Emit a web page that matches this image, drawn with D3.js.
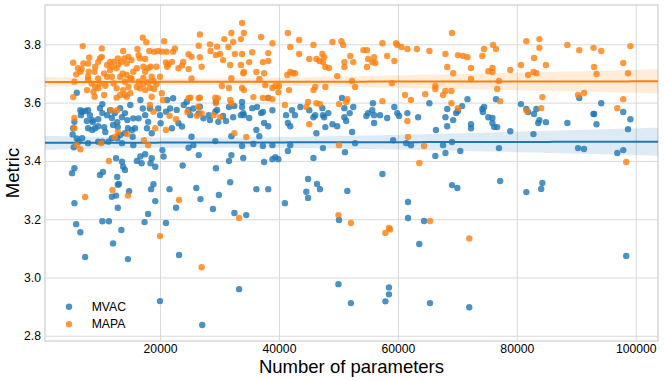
<!DOCTYPE html>
<meta charset="utf-8">
<style>
body { margin: 0; background: #fff; }
text { font-family: "Liberation Sans", Arial, sans-serif; fill: #000; }
</style>
<body>
<svg id="chart" width="664" height="381"></svg>
<script src="https://d3js.org/d3.v7.min.js"></script>
<script>

// [number of parameters, metric]
var mvacPoints = [
  [5600,3.534],[5400,3.512],[5300,3.491],[6000,3.477],[6300,3.466],[6600,3.574],[6900,3.568],[7400,3.571],
  [6700,3.557],[7900,3.574],[8200,3.557],[7700,3.537],[8600,3.540],[8700,3.533],[7900,3.512],[8600,3.506],
  [9100,3.512],[9600,3.543],[9900,3.581],[10300,3.564],[10300,3.595],[9600,3.519],[10600,3.516],[10800,3.499],
  [10300,3.466],[7900,3.461],[6900,3.478],[9600,3.466],[11300,3.466],[11100,3.557],[11600,3.574],[11900,3.547],
  [12100,3.523],[12400,3.564],[12800,3.533],[12900,3.516],[13300,3.581],[13600,3.550],[14100,3.564],[14500,3.540],
  [14600,3.512],[15000,3.592],[13300,3.489],[14100,3.495],[15300,3.506],[13600,3.461],[15500,3.454],[11900,3.478],
  [12800,3.478],[6000,3.634],[5500,3.447],
  [5600,3.375],[5200,3.358],[9900,3.352],[10400,3.362],[12600,3.409],[13600,3.397],[13800,3.380],[14100,3.369],
  [13100,3.321],[12800,3.345],[5600,3.255],[5900,3.183],[6600,3.155],[7400,3.070],[10300,3.193],[11400,3.193],
  [12100,3.117],[11900,3.277],[12600,3.281],[12900,3.318],[12900,3.239],[13500,3.163],[14600,3.063],[14800,3.296],
  [15500,3.546],[15800,3.512],[15400,3.483],[16700,3.609],[17100,3.580],[17500,3.557],[16400,3.546],[17800,3.512],
  [18000,3.534],[18600,3.495],[18300,3.580],[19700,3.580],[20000,3.557],[20100,3.529],[21000,3.569],[21200,3.609],
  [21700,3.580],[22000,3.512],[22200,3.615],[22800,3.575],[23100,3.529],[23700,3.518],[24000,3.592],[24500,3.603],
  [24800,3.575],[25100,3.557],[25600,3.580],[26500,3.563],[26700,3.586],[27300,3.546],[28200,3.557],[28400,3.540],
  [29300,3.569],[29400,3.603],[29800,3.534],[29600,3.575],
  [25300,3.483],[25600,3.454],[24800,3.445],[29300,3.468],[20400,3.437],[17500,3.423],[16700,3.415],[16100,3.400],
  [16900,3.392],[18600,3.409],[19200,3.380],[18400,3.392],[20600,3.415],[26500,3.420],[23800,3.384],[29400,3.375],
  [18900,3.320],[17400,3.190],[18000,3.218],[18500,3.303],[19200,3.262],[20000,2.919],[21000,3.187],[21600,3.303],
  [22700,3.239],[23200,3.077],[26100,3.307],[26800,3.269],[27100,2.837],[28900,3.235],[29900,3.283],[31800,3.327],
  [32500,3.221],[33300,2.960],
  [30600,3.554],[31100,3.537],[32300,3.550],[31600,3.585],[32500,3.588],[33800,3.602],[33800,3.585],[34000,3.564],
  [33600,3.557],[34100,3.557],[35000,3.547],[35500,3.581],[36300,3.585],[37000,3.564],[37300,3.568],[37500,3.530],
  [38200,3.519],[38200,3.616],[38900,3.574],[36200,3.506],[36700,3.485],[32000,3.485],[33800,3.451],[35700,3.458],
  [37300,3.451],[38900,3.454],[32000,3.420],[31600,3.400],[34000,3.410],[37500,3.396],[38900,3.406],[39400,3.413],
  [39900,3.406],
  [41200,3.557],[41500,3.530],[41900,3.519],[42200,3.574],[42700,3.557],[43600,3.585],[45100,3.574],[45800,3.550],
  [46100,3.557],[47300,3.581],[47400,3.557],[47600,3.550],[48300,3.564],[47800,3.516],[49000,3.526],[49800,3.519],
  [50600,3.616],[51000,3.581],[51000,3.550],[51300,3.537],[52500,3.585],[52300,3.499],[51900,3.564],[54700,3.554],
  [55000,3.564],[55700,3.574],[55800,3.598],[56000,3.557],[56000,3.530],[57000,3.557],[58200,3.547],[59400,3.585],
  [59900,3.564],[60200,3.554],[61600,3.564],[63400,3.550],[65300,3.598],[66400,3.506],[68300,3.578],[68000,3.550],
  [68300,3.519],[69300,3.540],[69800,3.564],
  [41900,3.454],[41500,3.434],[46300,3.495],[47400,3.444],[51100,3.430],[52800,3.461],[59200,3.471],[61400,3.461],
  [62200,3.454],[66300,3.417],[67600,3.454],[68000,3.427],[69100,3.465],[57400,3.355],[45800,3.410],[44900,3.338],
  [44600,3.294],[46400,3.321],[46900,3.303],[51500,3.297],[36200,3.303],[38200,3.303],[69100,3.317],[70000,3.307],
  [44900,3.273],[41000,3.255],[34500,3.214],[50100,3.197],[61700,3.259],[61700,3.204],[64400,3.194],[63600,3.115],
  [50000,2.977],[52100,2.912],[57900,2.918],[58500,2.942],[58500,2.966],[65400,2.912],
  [77200,3.331],[81600,3.293],[84100,3.304],[84300,3.324],[72000,2.898],[98400,3.074],
  [71700,3.612],[70800,3.588],[70100,3.571],[72300,3.526],[72300,3.512],[74200,3.578],[74500,3.585],[74300,3.568],
  [75200,3.550],[75900,3.547],[75900,3.530],[76200,3.516],[76700,3.516],[76500,3.612],[78900,3.502],[77000,3.444],
  [80700,3.595],[81600,3.578],[81900,3.568],[83300,3.578],[82900,3.561],[83800,3.540],[83600,3.530],[84900,3.533],
  [82800,3.492],[90500,3.616],[88500,3.530],[92900,3.561],[93000,3.561],[93400,3.526],[94200,3.598],[97900,3.568],
  [99100,3.543],[98700,3.509],[90300,3.444],[91300,3.441],[96900,3.427],[97900,3.437],[70500,3.434]
];

var mapaPoints = [
  [7000,3.794],[10200,3.786],[13800,3.777],[5400,3.737],[6200,3.718],[6600,3.706],[5900,3.697],[5600,3.672],
  [6800,3.715],[7100,3.734],[7900,3.734],[8100,3.755],[8000,3.706],[7900,3.689],[8500,3.666],[9100,3.723],
  [9000,3.706],[9900,3.752],[9600,3.740],[10200,3.757],[11100,3.729],[11600,3.740],[11900,3.723],[12200,3.740],
  [12900,3.752],[13000,3.731],[13500,3.740],[14000,3.752],[14400,3.734],[14700,3.757],[12700,3.718],[11600,3.712],
  [11100,3.689],[10600,3.700],[9600,3.683],[9900,3.666],[7900,3.678],[13700,3.700],[13300,3.689],[14400,3.695],
  [15000,3.683],[14100,3.672],[11900,3.689],[12200,3.666],[10800,3.658],[9100,3.654],[8800,3.637],[9600,3.649],
  [14700,3.654],[13800,3.643],[12700,3.649],[13300,3.626],[14100,3.626],[15000,3.632],[9000,3.620],[10600,3.626],
  [7700,3.643],[14400,3.620],[12700,3.617],
  [5400,3.619],[11800,3.574],[12800,3.574],[5600,3.512],[12900,3.499],[12400,3.482],[14500,3.492],[6000,3.454],
  [6600,3.440],[11400,3.400],[5600,3.547],[10100,3.461],[7400,3.276],[12000,3.300],[14600,3.281],
  [17100,3.823],[17700,3.807],[16200,3.784],[16400,3.763],[18200,3.777],[19000,3.775],[19700,3.777],[20300,3.775],
  [20700,3.811],[21100,3.775],[22500,3.786],[22200,3.775],[26700,3.834],[26500,3.795],[28400,3.800],[28500,3.777],
  [29600,3.792],[29400,3.763],[24800,3.766],[25300,3.757],[26700,3.756],[15200,3.746],[16600,3.752],[17500,3.750],
  [17200,3.723],[18000,3.718],[18400,3.723],[19400,3.723],[16100,3.718],[15500,3.706],[17500,3.706],[17200,3.685],
  [18600,3.689],[20000,3.689],[21000,3.738],[21400,3.731],[22000,3.740],[21200,3.723],[23900,3.740],[23700,3.727],
  [23100,3.718],[24800,3.715],[27000,3.723],[25300,3.683],[16400,3.672],[17200,3.663],[18000,3.670],[18900,3.674],
  [19400,3.663],[16600,3.649],[18300,3.651],[19000,3.647],[16100,3.654],[17500,3.643],[20300,3.632],[25100,3.617],
  [26700,3.617],[29300,3.617],[15200,3.683],
  [18300,3.592],[18900,3.569],[20500,3.609],[21600,3.555],[21000,3.506],[22700,3.543],[19200,3.512],[17300,3.471],
  [18000,3.454],[24800,3.615],[26500,3.615],[26200,3.555],[27000,3.563],[29000,3.557],[29700,3.615],[18600,3.620],
  [24600,3.568],[29400,3.598],[26400,3.585],
  [20000,3.142],[23200,3.266],[27000,3.035],[33300,3.204],
  [30100,3.767],[30800,3.818],[32000,3.839],[31500,3.791],[32300,3.808],[32600,3.767],[31800,3.729],[30400,3.657],
  [31600,3.650],[31800,3.609],[32000,3.598],[30100,3.550],[32500,3.495],[30600,3.746],[32000,3.684],
  [33800,3.873],[33600,3.818],[34100,3.839],[33800,3.767],[33600,3.729],[35000,3.739],[34100,3.705],[34000,3.701],
  [35500,3.773],[36200,3.705],[37000,3.825],[37300,3.739],[38200,3.770],[38200,3.743],[38900,3.804],[37500,3.701],
  [36700,3.681],[33800,3.650],[34100,3.643],[37700,3.660],[38900,3.650],[39400,3.657],[39900,3.636],[35700,3.619],
  [37300,3.616],[38200,3.616],[38900,3.612],
  [41500,3.839],[41900,3.791],[43400,3.815],[43400,3.767],[45100,3.750],[45800,3.798],[46300,3.750],[46800,3.743],
  [47300,3.767],[47600,3.756],[47400,3.739],[47800,3.722],[48400,3.719],[49000,3.808],[50500,3.811],[50800,3.798],
  [51000,3.739],[51000,3.722],[52500,3.739],[52000,3.760],[49800,3.691],[42400,3.701],[41900,3.705],[42700,3.701],
  [41400,3.695],[41700,3.643],[40000,3.657],[45800,3.643],[46100,3.654],[47800,3.654],[52300,3.674],[52800,3.654],
  [41000,3.592],[44900,3.602],[46300,3.598],[46900,3.595],[44600,3.585],[45100,3.526],[51500,3.612],[51300,3.602],
  [50100,3.595],
  [54200,3.780],[54800,3.780],[55000,3.750],[56000,3.756],[56200,3.736],[54800,3.722],[55700,3.739],[57400,3.804],
  [58200,3.760],[59400,3.743],[59700,3.804],[59900,3.798],[60600,3.791],[61600,3.784],[63200,3.784],[65300,3.777],
  [59000,3.667],[57400,3.605],[61200,3.626],[62200,3.609],[61600,3.537],[64600,3.629],[66300,3.657],[66300,3.647],
  [67600,3.626],[68000,3.640],[69000,3.640],[68000,3.767],[68300,3.722],[69100,3.839],[69300,3.701],[70100,3.763],
  [69000,3.598],[70100,3.581],[34500,3.482],[50100,3.454],[61700,3.482],[64400,3.451],[63600,3.393],
  [50000,3.214],[52100,3.187],[57900,3.153],[58500,3.170],[58700,3.165],[65400,3.194],[72000,3.134],
  [71000,3.760],[71700,3.756],[72300,3.719],[72300,3.681],[74200,3.760],[74500,3.784],[76000,3.798],[76500,3.784],
  [75200,3.708],[75900,3.719],[75900,3.705],[77000,3.674],[76700,3.647],[77200,3.605],[78900,3.712],[80700,3.729],
  [81600,3.811],[81900,3.695],[82800,3.705],[83300,3.701],[82900,3.753],[83800,3.818],[83800,3.788],[84900,3.729],
  [84300,3.619],[84100,3.581],[81700,3.571],[88500,3.798],[90500,3.780],[92900,3.788],[94200,3.777],[93000,3.722],
  [93400,3.698],[90300,3.626],[91300,3.633],[97900,3.736],[98700,3.701],[99100,3.794],[97900,3.612],[96900,3.581],
  [98400,3.396]
];

var seriesNames = ["MVAC", "MAPA"];
var seriesColors = ["#1f77b4", "#ff7f0e"];
var xTicks = [20000, 40000, 60000, 80000, 100000];
var yTicks = [2.8, 3.0, 3.2, 3.4, 3.6, 3.8];

// fitted regression lines: metric at the left and right axis edges
var fitX = [656, 103744];
var mvacFitY = [3.462, 3.466];
var mapaFitY = [3.671, 3.673];
// confidence band half-widths: at left edge, narrowest, at right edge
var mvacBand = [0.024, 0.017, 0.048];
var mapaBand = [0.017, 0.012, 0.041];

var svg = d3.select("#chart"),
    margin = {top: 5, right: 6, bottom: 40, left: 45},
    width = +svg.attr("width") - margin.left - margin.right,
    height = +svg.attr("height") - margin.top - margin.bottom,
    g = svg.append("g").attr("transform", "translate(" + margin.left + "," + margin.top + ")");

var x = d3.scaleLinear().domain(fitX).range([0, width]);
var y = d3.scaleLinear().domain([2.782, 3.935]).range([height, 0]);

function styleAxis(a) {
  a.select(".domain").remove();
  a.selectAll("line").attr("stroke", "#d9d9d9");
  a.selectAll("text").attr("font-size", "12.2px").attr("fill", "#000")
    .style("font-family", "'Liberation Sans', Arial, sans-serif");
}

g.append("g")
    .attr("transform", "translate(0," + height + ")")
    .call(d3.axisBottom(x).tickValues(xTicks).tickSize(-height).tickPadding(3).tickFormat(d3.format("d")))
    .call(styleAxis);

g.append("g")
    .call(d3.axisLeft(y).tickValues(yTicks).tickSize(-width).tickPadding(4).tickFormat(d3.format(".1f")))
    .call(styleAxis);

g.append("rect")
    .attr("width", width)
    .attr("height", height)
    .attr("fill", "none")
    .attr("stroke", "#d0d0d0")
    .attr("stroke-width", 1.25);

// half-width of the band: a hyperbola through the three read widths
function bandFn(b) {
  var xl = fitX[0], xr = fitX[1],
      hl = b[0], hm = b[1], hr = b[2],
      q = Math.sqrt((hr * hr - hm * hm) / (hl * hl - hm * hm)),
      xc = (xr + q * xl) / (1 + q),
      B = (hl * hl - hm * hm) / ((xc - xl) * (xc - xl));
  return function(v) { return Math.sqrt(hm * hm + B * (v - xc) * (v - xc)); };
}

var xs = d3.range(0, 101).map(function(i) { return fitX[0] + i / 100 * (fitX[1] - fitX[0]); });

[[mvacPoints, mvacFitY, mvacBand], [mapaPoints, mapaFitY, mapaBand]].forEach(function(s, k) {
  var col = seriesColors[k],
      line = d3.scaleLinear().domain(fitX).range(s[1]),
      hw = bandFn(s[2]);
  var rows = xs.map(function(v) { return {x: v, y: line(v), h: hw(v)}; });

  g.append("g")
    .selectAll("circle")
    .data(s[0])
    .enter().append("circle")
      .attr("cx", function(d) { return x(d[0]); })
      .attr("cy", function(d) { return y(d[1]); })
      .attr("r", 3.2)
      .attr("fill", col)
      .attr("fill-opacity", 0.8);

  g.append("path")
    .datum(rows)
    .attr("fill", col)
    .attr("fill-opacity", 0.15)
    .attr("d", d3.area()
      .x(function(d) { return x(d.x); })
      .y0(function(d) { return y(d.y - d.h); })
      .y1(function(d) { return y(d.y + d.h); }));

  g.append("path")
    .datum(rows)
    .attr("fill", "none")
    .attr("stroke", col)
    .attr("stroke-width", 2)
    .attr("d", d3.line()
      .x(function(d) { return x(d.x); })
      .y(function(d) { return y(d.y); }));
});

// legend
var legend = g.selectAll(".legend")
    .data(seriesNames)
    .enter().append("g")
      .attr("class", "legend")
      .attr("transform", function(d, i) { return "translate(24," + (301.7 + i * 17.5) + ")"; });

legend.append("circle")
    .attr("r", 3.2)
    .attr("fill", function(d, i) { return seriesColors[i]; })
    .attr("fill-opacity", 0.8);

legend.append("text")
    .attr("x", 22.7)
    .attr("dy", "0.35em")
    .attr("font-size", "12.2px")
    .text(function(d) { return d; });

svg.append("text")
    .attr("x", margin.left + width / 2)
    .attr("y", 372.5)
    .attr("text-anchor", "middle")
    .attr("font-size", "18.5px")
    .text("Number of parameters");

svg.append("text")
    .attr("transform", "translate(19.3," + (margin.top + height / 2) + ") rotate(-90)")
    .attr("text-anchor", "middle")
    .attr("font-size", "18.5px")
    .text("Metric");

</script>
</body>
